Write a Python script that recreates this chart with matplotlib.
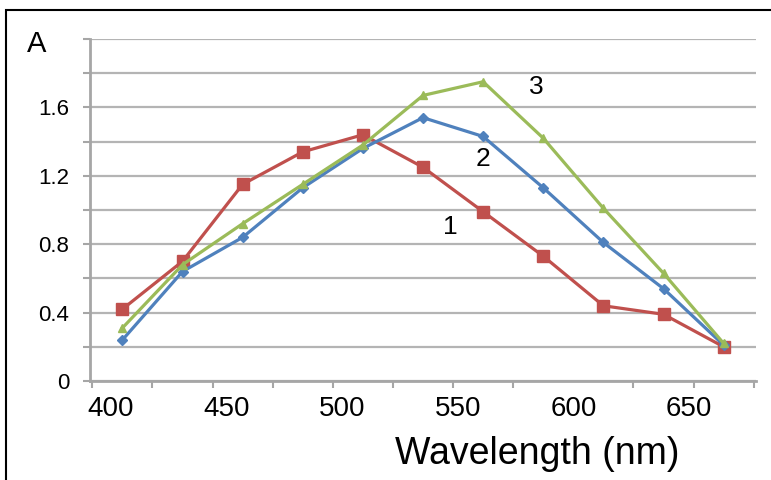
import matplotlib
matplotlib.use("Agg")
import matplotlib.pyplot as plt
from matplotlib.patches import Rectangle

# wavelength (nm) of each measured point
comprimentos = [405, 431, 457, 483, 509, 535, 561, 587, 613, 639, 665]

# absorbance of the three curves
curva1 = [0.42, 0.70, 1.15, 1.34, 1.44, 1.25, 0.99, 0.73, 0.44, 0.39, 0.20]
curva2 = [0.24, 0.64, 0.84, 1.13, 1.36, 1.54, 1.43, 1.13, 0.81, 0.54, 0.21]
curva3 = [0.31, 0.68, 0.92, 1.15, 1.38, 1.67, 1.75, 1.42, 1.01, 0.63, 0.22]

nomes = ["1", "2", "3"]
pos_nomes = [(547, 0.90), (561, 1.30), (584, 1.72)]

xticks = [400, 450, 500, 550, 600, 650]
yticks = [0, 0.2, 0.4, 0.6, 0.8, 1.0, 1.2, 1.4, 1.6, 1.8, 2.0]
ytick_labels = ["0", "", "0.4", "", "0.8", "", "1.2", "", "1.6", "", ""]
xfronteiras = [392, 418, 444, 470, 496, 522, 548, 574, 600, 626, 652, 678]

plt.rcParams['font.family'] = ['Liberation Sans', 'DejaVu Sans']

fig = plt.figure(figsize=(7.71, 4.8), dpi=100)
ax = fig.add_axes([90 / 771, 99 / 480, 666 / 771, 342 / 480])

cinza = '#a6a6a6'
ax.set_axisbelow(True)
ax.yaxis.grid(True, color='#b4b4b4', linewidth=1.6)

ax.plot(comprimentos, curva1, color='#c0504d', marker='s', markersize=8, linewidth=2.3)
ax.plot(comprimentos, curva2, color='#4f81bd', marker='D', markersize=5, linewidth=2.3)
ax.plot(comprimentos, curva3, color='#9bbb59', marker='^', markersize=6, linewidth=2.3)

for nome, (x, y) in zip(nomes, pos_nomes):
    ax.text(x, y, nome, fontsize=19, ha='center', va='center')

ax.set_xlim(391, 679)
ax.set_ylim(0, 2.0)
ax.set_xticks(xticks)
ax.set_xticklabels([str(v) for v in xticks], fontsize=20)
ax.set_xticks(xfronteiras, minor=True)
ax.tick_params(axis='x', which='major', length=0, pad=11)
ax.tick_params(axis='x', which='minor', length=5, width=1.5, color=cinza)
ax.set_yticks(yticks)
ax.set_yticklabels(ytick_labels, fontsize=16)
ax.tick_params(axis='y', length=5, width=1.5, color=cinza, pad=10)

for lado in ['top', 'right']:
    ax.spines[lado].set_visible(False)
for lado in ['left', 'bottom']:
    ax.spines[lado].set_color(cinza)
    ax.spines[lado].set_linewidth(2)

ax.set_xlabel("Wavelength (nm)", fontsize=27)
ax.xaxis.set_label_coords(0.672, -0.16)
ax.text(-0.095, 0.985, "A", transform=ax.transAxes, fontsize=21, ha='left', va='center')

fig.patches.append(Rectangle((6 / 771, -0.1), 2, 470 / 480 + 0.1, transform=fig.transFigure,
                             fill=False, edgecolor='black', linewidth=1.5))

fig.savefig("out.png", dpi=100)
